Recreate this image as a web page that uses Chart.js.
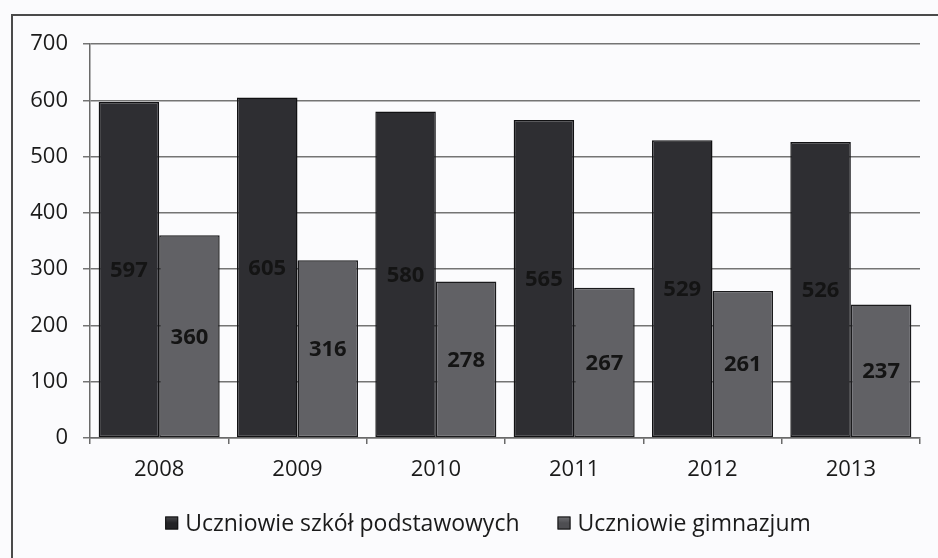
<!DOCTYPE html>
<html>
<head>
<meta charset="utf-8">
<script src="https://cdn.jsdelivr.net/npm/chart.js@4.4.1/dist/chart.umd.min.js"></script>
<style>
  html, body { margin: 0; padding: 0; background: #fbfbfd; }
  #wrap { position: relative; width: 938px; height: 558px; overflow: hidden; }
  #frame { position: absolute; left: 11px; top: 14px; width: 940px; height: 560px; border-left: 2px solid #4a4a4a; border-top: 2px solid #4a4a4a; }
  canvas { position: absolute; left: 0; top: 0; }
</style>
</head>
<body>
<div id="wrap">
  <div id="frame"></div>
  <canvas id="c" width="938" height="558"></canvas>
</div>
<script>
const categories = ["2008", "2009", "2010", "2011", "2012", "2013"];
const seriesNames = ["Uczniowie szkół podstawowych", "Uczniowie gimnazjum"];
const podstawowe = [597, 605, 580, 565, 529, 526];
const gimnazjum = [360, 316, 278, 267, 261, 237];
const yTicks = [0, 100, 200, 300, 400, 500, 600, 700];

const FONT = "'Open Sans', 'Liberation Sans', sans-serif";
const legendFills = ["#232326", "#4e4e52"];

const valueLabels = {
  id: 'valueLabels',
  afterDatasetsDraw(chart) {
    const ctx = chart.ctx;
    ctx.save();
    ctx.font = "bold 22px " + FONT;
    ctx.fillStyle = "#141414";
    ctx.textAlign = "center";
    ctx.textBaseline = "middle";
    chart.data.datasets.forEach((ds, i) => {
      const meta = chart.getDatasetMeta(i);
      meta.data.forEach((bar, j) => {
        const p = bar.getProps(['x', 'y', 'base'], true);
        ctx.fillText(String(ds.data[j]), p.x, (p.y + p.base) / 2 + 1);
      });
    });
    ctx.restore();
  }
};

const bottomLegend = {
  id: 'bottomLegend',
  afterDraw(chart) {
    const ctx = chart.ctx;
    ctx.save();
    ctx.font = "23px " + FONT;
    ctx.textBaseline = "middle";
    ctx.textAlign = "left";
    const box = 13, gap = 7, itemGap = 38, cy = 523, cx = 488;
    const names = chart.data.datasets.map(d => d.label);
    const widths = names.map(n => ctx.measureText(n).width);
    const total = widths.reduce((a, w) => a + box + gap + w, 0) + itemGap * (names.length - 1);
    let x = cx - total / 2;
    names.forEach((n, i) => {
      const g = ctx.createLinearGradient(0, cy - box / 2, 0, cy + box / 2);
      g.addColorStop(0, i === 0 ? "#4a4a4e" : "#707074");
      g.addColorStop(0.5, legendFills[i]);
      g.addColorStop(1, legendFills[i]);
      ctx.fillStyle = g;
      ctx.fillRect(x, cy - box / 2, box, box);
      ctx.strokeStyle = "#111";
      ctx.lineWidth = 1;
      ctx.strokeRect(x + 0.5, cy - box / 2 + 0.5, box - 1, box - 1);
      ctx.fillStyle = "#1a1a1a";
      ctx.fillText(n, x + box + gap, cy + 1);
      x += box + gap + widths[i] + itemGap;
    });
    ctx.restore();
  }
};

function barGradient(base) {
  return (c) => {
    const {chart} = c;
    const el = c.element;
    if (!el || !chart.chartArea) return base[1];
    const x = el.x, w = el.width;
    if (!Number.isFinite(x) || !Number.isFinite(w) || w <= 0) return base[1];
    const g = chart.ctx.createLinearGradient(x - w / 2, 0, x + w / 2, 0);
    g.addColorStop(0, base[0]);
    g.addColorStop(0.12, base[1]);
    g.addColorStop(0.88, base[1]);
    g.addColorStop(1, base[0]);
    return g;
  };
}

new Chart(document.getElementById('c'), {
  type: 'bar',
  data: {
    labels: categories,
    datasets: [
      {
        label: seriesNames[0],
        data: podstawowe,
        backgroundColor: barGradient(["#1c1c1f", "#2e2e32"]),
        borderColor: "#111113",
        borderWidth: 1.5,
        borderSkipped: false
      },
      {
        label: seriesNames[1],
        data: gimnazjum,
        backgroundColor: barGradient(["#4a4a4e", "#616165"]),
        borderColor: "#1a1a1c",
        borderWidth: 1.5,
        borderSkipped: false
      }
    ]
  },
  options: {
    responsive: false,
    animation: false,
    layout: { padding: { left: 10, right: 18, top: 44, bottom: 58 } },
    datasets: { bar: { categoryPercentage: 0.875, barPercentage: 1.0 } },
    plugins: {
      legend: { display: false },
      tooltip: { enabled: false }
    },
    scales: {
      x: {
        grid: { display: true, drawOnChartArea: false, drawTicks: true, tickLength: 6, color: "#6a6a6a", lineWidth: 1.5 },
        border: { display: true, color: "#6a6a6a", width: 1.5 },
        ticks: { font: { family: FONT, size: 22 }, color: "#1a1a1a", padding: 13 },
        afterFit(scale) { scale.height = 62; }
      },
      y: {
        min: 0,
        max: 700,
        afterBuildTicks(scale) { scale.ticks = yTicks.map(v => ({ value: v })); },
        grid: { color: "#747474", lineWidth: 1.5, drawTicks: true, tickLength: 7 },
        border: { display: true, color: "#6a6a6a", width: 1.5 },
        ticks: { font: { family: FONT, size: 22 }, color: "#1a1a1a", padding: 15 },
        afterFit(scale) { scale.width = 80; }
      }
    }
  },
  plugins: [valueLabels, bottomLegend]
});
</script>
</body>
</html>
